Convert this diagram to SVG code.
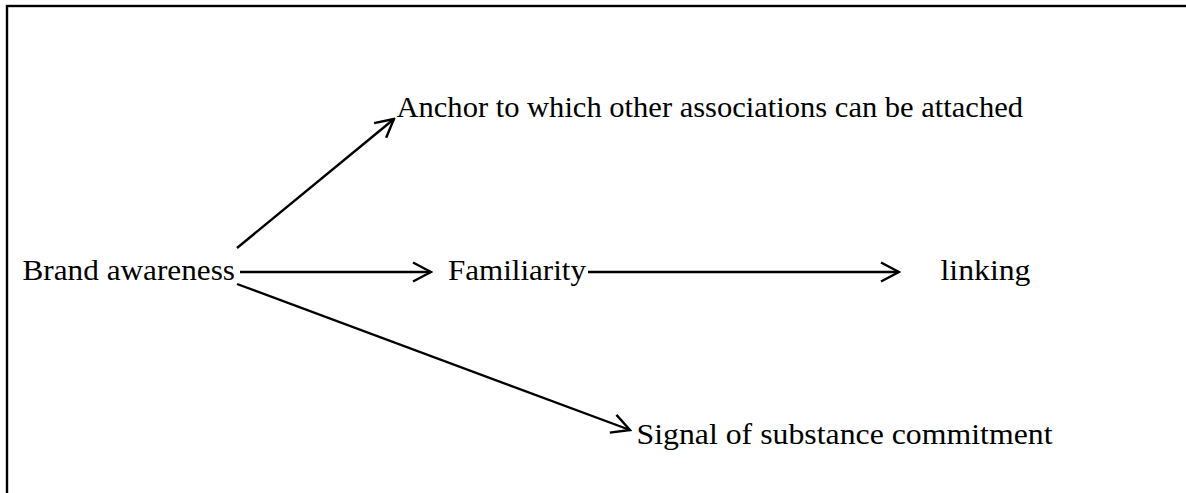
<svg xmlns="http://www.w3.org/2000/svg" width="1186" height="493" viewBox="0 0 1186 493">
<style>
.t{font-family:"Liberation Serif","Times New Roman",Times,serif;font-size:30px;fill:#000}
.c{stroke:#000;stroke-width:2.4;fill:none}
</style>
<defs>
<marker id="ah" markerUnits="userSpaceOnUse" viewBox="-22 -12 24 24" markerWidth="24" markerHeight="24" refX="0" refY="0" orient="auto">
<path d="M-18,-9.5 L0,0 L-18,9.5" fill="none" stroke="#000" stroke-width="2.4"/>
</marker>
</defs>
<rect x="7" y="6" width="1190" height="500" fill="#fff" stroke="#000" stroke-width="2.4"/>
<g id="connectors">
<line class="c" x1="237" y1="248" x2="394" y2="119" marker-end="url(#ah)"/>
<line class="c" x1="240" y1="272" x2="431" y2="272" marker-end="url(#ah)"/>
<line class="c" x1="588" y1="272" x2="899" y2="272" marker-end="url(#ah)"/>
<line class="c" x1="237" y1="284" x2="630" y2="430" marker-end="url(#ah)"/>
</g>
<g id="brand"><text class="t" x="22.5" y="280" textLength="212.5" lengthAdjust="spacingAndGlyphs">Brand awareness</text></g>
<g id="anchor"><text class="t" x="396.5" y="117" textLength="626.5" lengthAdjust="spacingAndGlyphs">Anchor to which other associations can be attached</text></g>
<g id="familiarity"><text class="t" x="448" y="280" textLength="138" lengthAdjust="spacingAndGlyphs">Familiarity</text></g>
<g id="linking"><text class="t" x="940.5" y="280" textLength="90" lengthAdjust="spacingAndGlyphs">linking</text></g>
<g id="signal"><text class="t" x="636.5" y="444" textLength="416" lengthAdjust="spacingAndGlyphs">Signal of substance commitment</text></g>
</svg>
